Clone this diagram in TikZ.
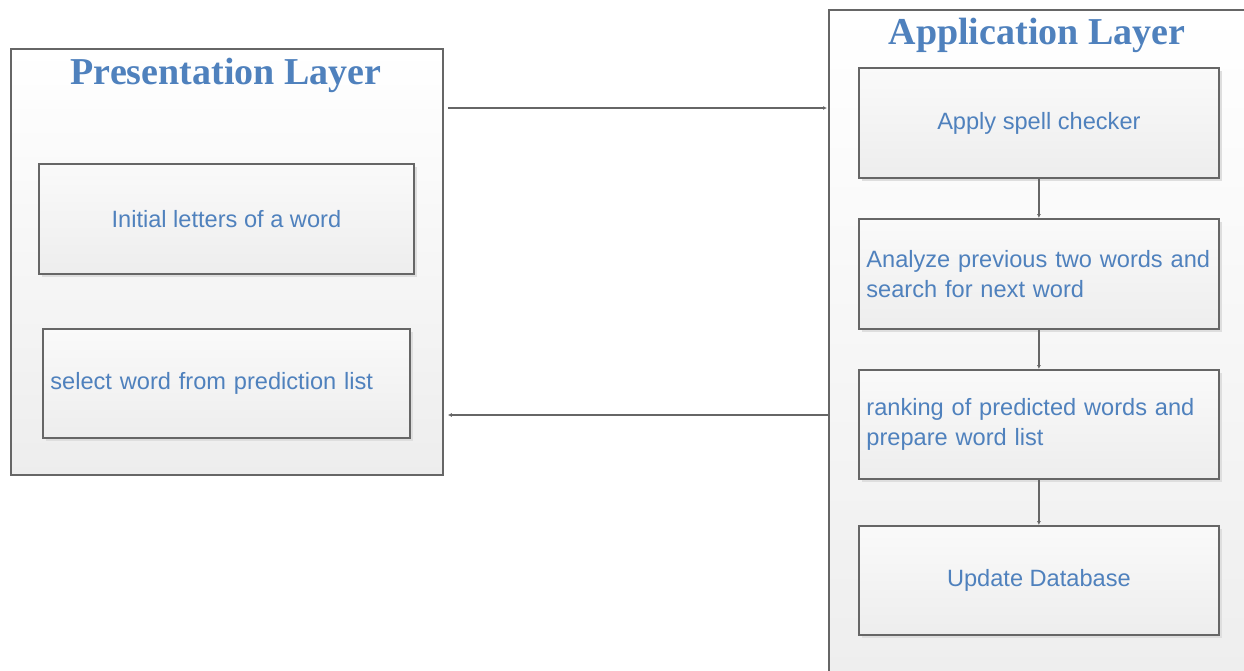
\documentclass[tikz,border=0pt]{standalone}
\usepackage{fontspec}
\setmainfont{Liberation Sans}
\newfontfamily\titlefont{Liberation Serif}
\usetikzlibrary{shadows,arrows.meta}
\definecolor{txtblue}{HTML}{4F81BD}
\definecolor{edgegray}{HTML}{666666}
\begin{document}
\begin{tikzpicture}[x=1pt,y=-1pt,
  layerbox/.style={draw=edgegray, line width=1.8pt, top color=white, bottom color=black!7,
    anchor=north west, inner sep=0pt},
  stepbox/.style={draw=edgegray, line width=1.8pt, top color=black!2, bottom color=black!7,
    anchor=north west, inner sep=0pt, minimum height=110pt,
    drop shadow={shadow xshift=3pt, shadow yshift=-3pt, fill=black!13, opacity=1},
    font=\fontsize{23.6}{30}\selectfont, text=txtblue},
  lefttext/.style={align=left, inner xsep=7.5pt},
  titletext/.style={font=\titlefont\bfseries\fontsize{38}{40}\selectfont, text=txtblue, anchor=base},
  flow/.style={draw=edgegray, line width=1.6pt, -{Latex[length=4pt,width=4pt]}}
]
\useasboundingbox (0,0) rectangle (1244,670);
\clip (0,0) rectangle (1244,670);
\fill[white] (0,0) rectangle (1244,670);

% outer layers
\node[layerbox, minimum width=432pt, minimum height=426pt] (pres) at (10,48) {};
\node[layerbox, minimum width=460pt, minimum height=700pt] (app) at (828,9) {};

\node[titletext] (prestitle) at (226,84) {Presentation Layer};
\node[titletext] (apptitle) at (1037,44) {Application Layer};

% presentation boxes
\node[stepbox, minimum width=375pt] (initial) at (38,163) {Initial letters of a word};
\node[stepbox, lefttext, minimum width=367pt, minimum height=109pt, text width=352pt] (select) at (42,328) {select word from prediction list};

% application boxes
\node[stepbox, minimum width=360pt] (spell) at (858,67) {Apply spell checker};
\node[stepbox, lefttext, minimum width=360pt, text width=345pt] (analyze) at (858,218) {Analyze previous two words and\\search for next word};
\node[stepbox, lefttext, minimum width=360pt, minimum height=109pt, text width=345pt] (rank) at (858,369) {ranking of predicted words and\\prepare word list};
\node[stepbox, minimum width=360pt, minimum height=109pt] (update) at (858,525) {Update Database};

% vertical connectors
\draw[flow] (spell.south) -- (analyze.north);
\draw[flow] (analyze.south) -- (rank.north);
\draw[flow] (rank.south) -- (update.north);

% horizontal connectors
\draw[flow, shorten <=4pt, shorten >=1pt] ([yshift=-60pt]pres.north east) -- ([yshift=-60pt]pres.north east -| app.west);
\draw[flow, shorten >=4pt] ([yshift=-367pt]pres.north east -| app.west) -- ([yshift=-367pt]pres.north east);
\end{tikzpicture}
\end{document}
